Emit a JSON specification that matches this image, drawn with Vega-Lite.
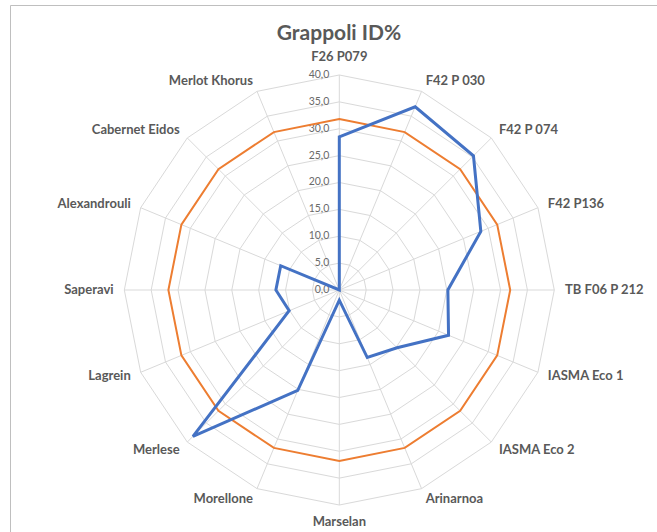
{
  "$schema": "https://vega.github.io/schema/vega-lite/v6.json",
  "width": 647,
  "height": 527,
  "autosize": {"type": "none"},
  "padding": {"left": 10, "top": 5, "right": 0, "bottom": 0},
  "background": "white",
  "config": {"view": {"stroke": "#bfbfbf", "strokeWidth": 1}, "font": "Lato"},
  "title": {
    "text": "Grappoli ID%",
    "fontSize": 21,
    "fontWeight": "bold",
    "color": "#595959",
    "font": "Lato",
    "anchor": "middle",
    "frame": "group",
    "baseline": "middle",
    "offset": -50,
    "dx": 5.5
  },
  "datasets": {
    "cats": [
      {"cat": "F26 P079", "idx": 0},
      {"cat": "F42 P 030", "idx": 1},
      {"cat": "F42 P 074", "idx": 2},
      {"cat": "F42 P136", "idx": 3},
      {"cat": "TB F06 P 212", "idx": 4},
      {"cat": "IASMA Eco 1", "idx": 5},
      {"cat": "IASMA Eco 2", "idx": 6},
      {"cat": "Arinarnoa", "idx": 7},
      {"cat": "Marselan", "idx": 8},
      {"cat": "Morellone", "idx": 9},
      {"cat": "Merlese", "idx": 10},
      {"cat": "Lagrein", "idx": 11},
      {"cat": "Saperavi", "idx": 12},
      {"cat": "Alexandrouli", "idx": 13},
      {"cat": "Cabernet Eidos", "idx": 14},
      {"cat": "Merlot Khorus", "idx": 15}
    ],
    "series": [
      {"series": "ID%", "cat": "F26 P079", "idx": 0, "value": 28.5},
      {"series": "ID%", "cat": "F42 P 030", "idx": 1, "value": 36.9},
      {"series": "ID%", "cat": "F42 P 074", "idx": 2, "value": 35.3},
      {"series": "ID%", "cat": "F42 P136", "idx": 3, "value": 28.5},
      {"series": "ID%", "cat": "TB F06 P 212", "idx": 4, "value": 20.2},
      {"series": "ID%", "cat": "IASMA Eco 1", "idx": 5, "value": 22.0},
      {"series": "ID%", "cat": "IASMA Eco 2", "idx": 6, "value": 15.2},
      {"series": "ID%", "cat": "Arinarnoa", "idx": 7, "value": 13.6},
      {"series": "ID%", "cat": "Marselan", "idx": 8, "value": 1.9},
      {"series": "ID%", "cat": "Morellone", "idx": 9, "value": 20.2},
      {"series": "ID%", "cat": "Merlese", "idx": 10, "value": 38.5},
      {"series": "ID%", "cat": "Lagrein", "idx": 11, "value": 10.1},
      {"series": "ID%", "cat": "Saperavi", "idx": 12, "value": 11.8},
      {"series": "ID%", "cat": "Alexandrouli", "idx": 13, "value": 11.8},
      {"series": "ID%", "cat": "Cabernet Eidos", "idx": 14, "value": 0},
      {"series": "ID%", "cat": "Merlot Khorus", "idx": 15, "value": 0},
      {"series": "Media", "cat": "F26 P079", "idx": 0, "value": 31.8},
      {"series": "Media", "cat": "F42 P 030", "idx": 1, "value": 31.8},
      {"series": "Media", "cat": "F42 P 074", "idx": 2, "value": 31.8},
      {"series": "Media", "cat": "F42 P136", "idx": 3, "value": 31.8},
      {"series": "Media", "cat": "TB F06 P 212", "idx": 4, "value": 31.8},
      {"series": "Media", "cat": "IASMA Eco 1", "idx": 5, "value": 31.8},
      {"series": "Media", "cat": "IASMA Eco 2", "idx": 6, "value": 31.8},
      {"series": "Media", "cat": "Arinarnoa", "idx": 7, "value": 31.8},
      {"series": "Media", "cat": "Marselan", "idx": 8, "value": 31.8},
      {"series": "Media", "cat": "Morellone", "idx": 9, "value": 31.8},
      {"series": "Media", "cat": "Merlese", "idx": 10, "value": 31.8},
      {"series": "Media", "cat": "Lagrein", "idx": 11, "value": 31.8},
      {"series": "Media", "cat": "Saperavi", "idx": 12, "value": 31.8},
      {"series": "Media", "cat": "Alexandrouli", "idx": 13, "value": 31.8},
      {"series": "Media", "cat": "Cabernet Eidos", "idx": 14, "value": 31.8},
      {"series": "Media", "cat": "Merlot Khorus", "idx": 15, "value": 31.8}
    ],
    "rings": [
      {"level": 5, "idx": [0,1,2,3,4,5,6,7,8,9,10,11,12,13,14,15]},
      {"level": 10, "idx": [0,1,2,3,4,5,6,7,8,9,10,11,12,13,14,15]},
      {"level": 15, "idx": [0,1,2,3,4,5,6,7,8,9,10,11,12,13,14,15]},
      {"level": 20, "idx": [0,1,2,3,4,5,6,7,8,9,10,11,12,13,14,15]},
      {"level": 25, "idx": [0,1,2,3,4,5,6,7,8,9,10,11,12,13,14,15]},
      {"level": 30, "idx": [0,1,2,3,4,5,6,7,8,9,10,11,12,13,14,15]},
      {"level": 35, "idx": [0,1,2,3,4,5,6,7,8,9,10,11,12,13,14,15]},
      {"level": 40, "idx": [0,1,2,3,4,5,6,7,8,9,10,11,12,13,14,15]}
    ],
    "levels": [
      {"level": 0}, {"level": 5}, {"level": 10}, {"level": 15}, {"level": 20},
      {"level": 25}, {"level": 30}, {"level": 35}, {"level": 40}
    ]
  },
  "encoding": {
    "x": {"field": "x", "type": "quantitative", "scale": {"domain": [-61.27, 59.11], "nice": false, "zero": false}, "axis": null},
    "y": {"field": "y", "type": "quantitative", "scale": {"domain": [-45.02, 53.02], "nice": false, "zero": false}, "axis": null}
  },
  "layer": [
    {
      "data": {"name": "rings"},
      "transform": [
        {"flatten": ["idx"]},
        {"calculate": "datum.level * sin(datum.idx * PI / 8)", "as": "x"},
        {"calculate": "datum.level * cos(datum.idx * PI / 8)", "as": "y"}
      ],
      "mark": {"type": "line", "interpolate": "linear-closed", "stroke": "#d9d9d9", "strokeWidth": 1},
      "encoding": {
        "detail": {"field": "level", "type": "nominal"},
        "order": {"field": "idx", "type": "quantitative"}
      }
    },
    {
      "data": {"name": "cats"},
      "transform": [
        {"calculate": "40 * sin(datum.idx * PI / 8)", "as": "x"},
        {"calculate": "40 * cos(datum.idx * PI / 8)", "as": "y"}
      ],
      "mark": {"type": "rule", "stroke": "#d9d9d9", "strokeWidth": 1},
      "encoding": {
        "x2": {"datum": 0},
        "y2": {"datum": 0}
      }
    },
    {
      "data": {"name": "levels"},
      "transform": [
        {"calculate": "0", "as": "x"},
        {"calculate": "datum.level", "as": "y"},
        {"calculate": "replace(format(datum.level, '.1f'), '.', ',')", "as": "label"}
      ],
      "mark": {"type": "text", "align": "right", "baseline": "middle", "dx": -10, "fontSize": 10.5, "color": "#6a6a6a", "font": "Lato"},
      "encoding": {"text": {"field": "label"}}
    },
    {
      "data": {"name": "series"},
      "transform": [
        {"filter": "datum.series === 'Media'"},
        {"calculate": "datum.value * sin(datum.idx * PI / 8)", "as": "x"},
        {"calculate": "datum.value * cos(datum.idx * PI / 8)", "as": "y"}
      ],
      "mark": {"type": "line", "interpolate": "linear-closed", "stroke": "#ED7D31", "strokeWidth": 2},
      "encoding": {
        "order": {"field": "idx", "type": "quantitative"}
      }
    },
    {
      "data": {"name": "series"},
      "transform": [
        {"filter": "datum.series === 'ID%'"},
        {"calculate": "datum.value * sin(datum.idx * PI / 8)", "as": "x"},
        {"calculate": "datum.value * cos(datum.idx * PI / 8)", "as": "y"}
      ],
      "mark": {"type": "line", "interpolate": "linear-closed", "stroke": "#4472C4", "strokeWidth": 3, "strokeJoin": "miter"},
      "encoding": {
        "order": {"field": "idx", "type": "quantitative"}
      }
    },
    {
      "data": {"name": "cats"},
      "transform": [
        {"filter": "datum.idx >= 1 && datum.idx <= 7"},
        {"calculate": "42 * sin(datum.idx * PI / 8)", "as": "x"},
        {"calculate": "42 * cos(datum.idx * PI / 8)", "as": "y"}
      ],
      "mark": {"type": "text", "align": "left", "baseline": "middle", "fontSize": 13, "fontWeight": "bold", "color": "#595959", "font": "Lato"},
      "encoding": {"text": {"field": "cat"}}
    },
    {
      "data": {"name": "cats"},
      "transform": [
        {"filter": "datum.idx >= 9"},
        {"calculate": "42 * sin(datum.idx * PI / 8)", "as": "x"},
        {"calculate": "42 * cos(datum.idx * PI / 8)", "as": "y"}
      ],
      "mark": {"type": "text", "align": "right", "baseline": "middle", "fontSize": 13, "fontWeight": "bold", "color": "#595959", "font": "Lato"},
      "encoding": {"text": {"field": "cat"}}
    },
    {
      "data": {"name": "cats"},
      "transform": [
        {"filter": "datum.idx === 0"},
        {"calculate": "0", "as": "x"},
        {"calculate": "42", "as": "y"}
      ],
      "mark": {"type": "text", "align": "center", "baseline": "bottom", "fontSize": 13, "fontWeight": "bold", "color": "#595959", "font": "Lato"},
      "encoding": {"text": {"field": "cat"}}
    },
    {
      "data": {"name": "cats"},
      "transform": [
        {"filter": "datum.idx === 8"},
        {"calculate": "0", "as": "x"},
        {"calculate": "-42", "as": "y"}
      ],
      "mark": {"type": "text", "align": "center", "baseline": "top", "fontSize": 13, "fontWeight": "bold", "color": "#595959", "font": "Lato"},
      "encoding": {"text": {"field": "cat"}}
    }
  ]
}
